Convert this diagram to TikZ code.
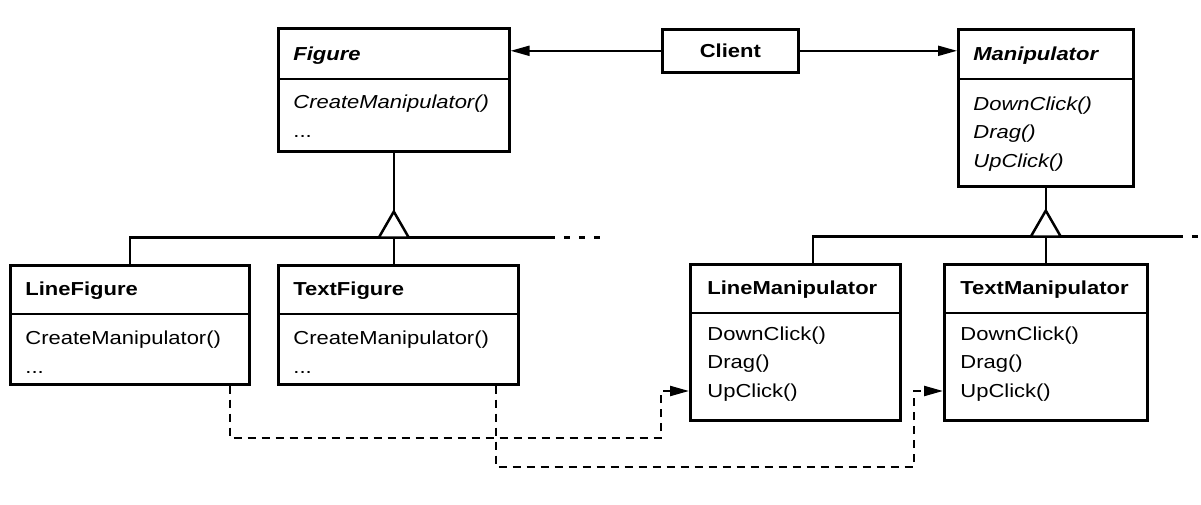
\documentclass[tikz,border=0pt]{standalone}
\usepackage{fontspec}
\setmainfont{Liberation Sans}[FakeStretch=1.17]
\usetikzlibrary{arrows.meta, calc}

\begin{document}
\begin{tikzpicture}[x=0.5pt, y=-0.5pt,
    cls/.style  = {draw, line width=1.3pt, anchor=north west, inner sep=0pt},
    ttl/.style  = {anchor=base west, inner sep=0pt, font=\fontsize{9.4}{14.25}\selectfont\bfseries},
    ops/.style  = {anchor=base west, inner sep=0pt, align=left, font=\fontsize{9.4}{14.25}\selectfont},
    sep/.style  = {line width=0.8pt},
    link/.style = {line width=1.25pt},
    arr/.style  = {line width=1pt, -{Triangle[length=9.5pt, width=5pt]}},
    dep/.style  = {arr, line width=1.1pt, dash pattern=on 4pt off 3pt},
    gen/.style  = {link, fill=white, line join=miter},
]

\useasboundingbox (0,0) rectangle (1201,504);

%% ---- Top row ----
% (ops nodes sit on the baseline of their last line)
\node[cls, minimum width=231*0.5pt, minimum height=123*0.5pt] (fig) at (277,27) {};
\draw[sep] ($(fig.north west)+(0,52)$) -- ($(fig.north east)+(0,52)$);
\node[ttl] (figT) at ($(fig.north west)+(16,33)$) {\itshape Figure};
\node[ops] (figO) at ($(fig.north west)+(16,110)$) {\itshape CreateManipulator()\\...};

\node[cls, minimum width=136*0.5pt, minimum height=43*0.5pt,
      font=\fontsize{9.4}{14.25}\selectfont\bfseries] (client) at (661,28) {Client};

\node[cls, minimum width=175*0.5pt, minimum height=157*0.5pt] (man) at (957,28) {};
\draw[sep] ($(man.north west)+(0,51)$) -- ($(man.north east)+(0,51)$);
\node[ttl] (manT) at ($(man.north west)+(16,32)$) {\itshape Manipulator};
\node[ops] (manO) at ($(man.north west)+(16,139)$) {\itshape DownClick()\\\itshape Drag()\\\itshape UpClick()};

%% ---- Subclasses ----
\node[cls, minimum width=239*0.5pt, minimum height=119*0.5pt] (lfig) at (9,264) {};
\draw[sep] ($(lfig.north west)+(0,50)$) -- ($(lfig.north east)+(0,50)$);
\node[ttl] (lfigT) at ($(lfig.north west)+(16,31)$) {LineFigure};
\node[ops] (lfigO) at ($(lfig.north west)+(16,109)$) {CreateManipulator()\\...};

\node[cls, minimum width=240*0.5pt, minimum height=119*0.5pt] (tfig) at (277,264) {};
\draw[sep] ($(tfig.north west)+(0,50)$) -- ($(tfig.north east)+(0,50)$);
\node[ttl] (tfigT) at ($(tfig.north west)+(16,31)$) {TextFigure};
\node[ops] (tfigO) at ($(tfig.north west)+(16,109)$) {CreateManipulator()\\...};

\node[cls, minimum width=210*0.5pt, minimum height=156*0.5pt] (lman) at (689,263) {};
\draw[sep] ($(lman.north west)+(0,50)$) -- ($(lman.north east)+(0,50)$);
\node[ttl] (lmanT) at ($(lman.north west)+(18,31)$) {LineManipulator};
\node[ops] (lmanO) at ($(lman.north west)+(18,134)$) {DownClick()\\Drag()\\UpClick()};

\node[cls, minimum width=203*0.5pt, minimum height=156*0.5pt] (tman) at (943,263) {};
\draw[sep] ($(tman.north west)+(0,50)$) -- ($(tman.north east)+(0,50)$);
\node[ttl] (tmanT) at ($(tman.north west)+(17,31)$) {TextManipulator};
\node[ops] (tmanO) at ($(tman.north west)+(17,134)$) {DownClick()\\Drag()\\UpClick()};

%% ---- Client associations ----
\draw[arr] (client.west) -- (client.west -| fig.east);
\draw[arr] (client.east) -- (client.east -| man.west);

%% ---- Figure hierarchy ----
\coordinate (fHub) at ($(fig.south)+(0,85)$);
\draw[link] (fig.south) -- ($(fHub)+(0,-26)$);
\draw[link] (lfig.north) |- (fHub) -- ++(155,0);
\draw[link, dash pattern=on 3pt off 4.5pt] ($(fHub)+(155,0)$) -- ++(58,0);
\draw[link] (fHub) -- (fHub |- tfig.north);
\draw[gen] ($(fHub)+(0,-26)$) -- ($(fHub)+(15,0)$) -- ($(fHub)+(-15,0)$) -- cycle;

%% ---- Manipulator hierarchy ----
\coordinate (mHub) at ($(man.south)+(0,49)$);
\draw[link] (man.south) -- ($(mHub)+(0,-26)$);
\draw[link] ($(lman.north west)+(124,0)$) |- (mHub) -- ++(131,0);
\draw[link, dash pattern=on 3pt off 4.5pt] ($(mHub)+(131,0)$) -- ++(26,0);
\draw[link] (mHub) -- (mHub |- tman.north);
\draw[gen] ($(mHub)+(0,-26)$) -- ($(mHub)+(15,0)$) -- ($(mHub)+(-15,0)$) -- cycle;

%% ---- Creates (dashed) ----
\draw[dep] ($(lfig.south east)+(-21,0)$) -- ++(0,52)
    -| ($(lman.north west)+(-28,128)$) -- ($(lman.north west)+(0,128)$);
\draw[dep] ($(tfig.south east)+(-24,0)$) -- ++(0,81)
    -| ($(tman.north west)+(-29,128)$) -- ($(tman.north west)+(0,128)$);

\end{tikzpicture}
\end{document}
